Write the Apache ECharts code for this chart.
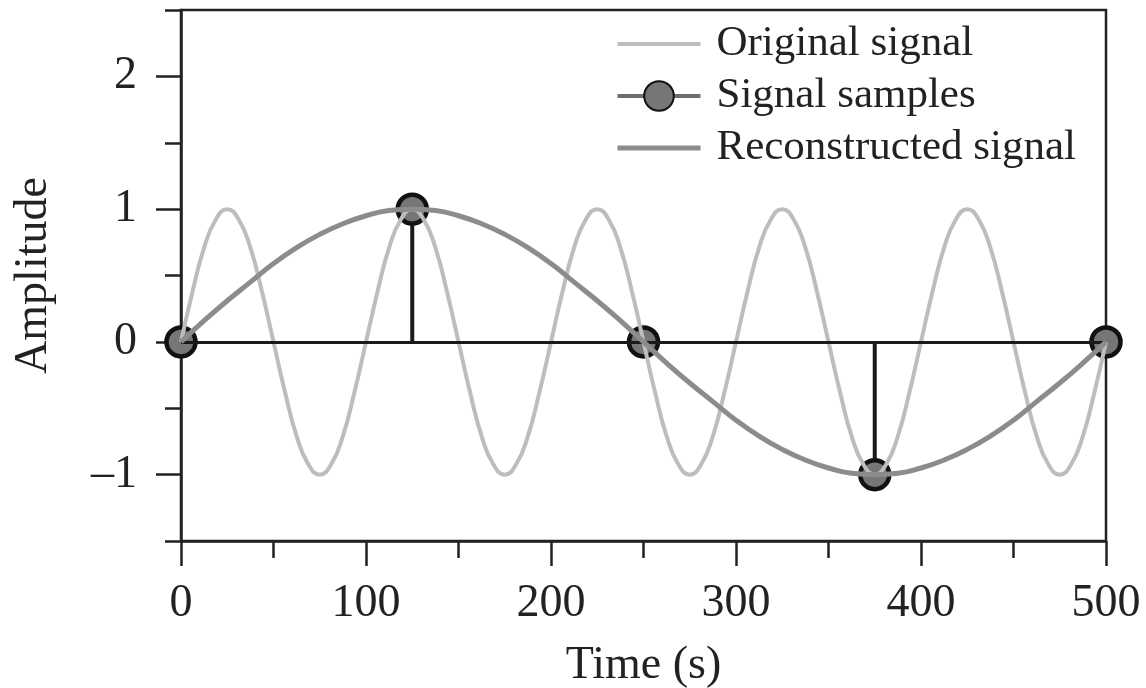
<!DOCTYPE html>
<html>
<head>
<meta charset="utf-8">
<script src="https://cdn.jsdelivr.net/npm/echarts@6/dist/echarts.min.js"></script>
<style>html,body{margin:0;padding:0;background:#fff;}#c{width:1146px;height:688px;}</style>
</head>
<body>
<div id="c"></div>
<script>
// Original signal (period 100 s)
const origTime = [0,6.25,12.5,18.75,25,31.25,37.5,43.75,50,56.25,62.5,68.75,75,81.25,87.5,93.75,
  100,106.25,112.5,118.75,125,131.25,137.5,143.75,150,156.25,162.5,168.75,175,181.25,187.5,193.75,
  200,206.25,212.5,218.75,225,231.25,237.5,243.75,250,256.25,262.5,268.75,275,281.25,287.5,293.75,
  300,306.25,312.5,318.75,325,331.25,337.5,343.75,350,356.25,362.5,368.75,375,381.25,387.5,393.75,
  400,406.25,412.5,418.75,425,431.25,437.5,443.75,450,456.25,462.5,468.75,475,481.25,487.5,493.75,500];
const origAmp = [0,0.38,0.71,0.92,1,0.92,0.71,0.38,0,-0.38,-0.71,-0.92,-1,-0.92,-0.71,-0.38,
  0,0.38,0.71,0.92,1,0.92,0.71,0.38,0,-0.38,-0.71,-0.92,-1,-0.92,-0.71,-0.38,
  0,0.38,0.71,0.92,1,0.92,0.71,0.38,0,-0.38,-0.71,-0.92,-1,-0.92,-0.71,-0.38,
  0,0.38,0.71,0.92,1,0.92,0.71,0.38,0,-0.38,-0.71,-0.92,-1,-0.92,-0.71,-0.38,
  0,0.38,0.71,0.92,1,0.92,0.71,0.38,0,-0.38,-0.71,-0.92,-1,-0.92,-0.71,-0.38,0];
// Reconstructed signal (period 500 s)
const reconTime = [0,12.5,25,37.5,50,62.5,75,87.5,100,112.5,125,137.5,150,162.5,175,187.5,200,212.5,225,237.5,
  250,262.5,275,287.5,300,312.5,325,337.5,350,362.5,375,387.5,400,412.5,425,437.5,450,462.5,475,487.5,500];
const reconAmp = [0,0.16,0.31,0.45,0.59,0.71,0.81,0.89,0.95,0.99,1,0.99,0.95,0.89,0.81,0.71,0.59,0.45,0.31,0.16,
  0,-0.16,-0.31,-0.45,-0.59,-0.71,-0.81,-0.89,-0.95,-0.99,-1,-0.99,-0.95,-0.89,-0.81,-0.71,-0.59,-0.45,-0.31,-0.16,0];
// Samples
const sampleTime = [0,125,250,375,500];
const sampleAmp = [0,1,0,-1,0];
// Ticks
const xTicks = [0,100,200,300,400,500];
const yMajorTicks = [-1,0,1,2];
const yMinorTicks = [-1.5,-0.5,0.5,1.5,2.5];

const FONT = 'Liberation Serif';
const INK = '#222';
const zip = (a,b) => a.map((v,i)=>[v,b[i]]);

const chart = echarts.init(document.getElementById('c'));
chart.setOption({
  backgroundColor:'#fff',
  animation:false,
  textStyle:{fontFamily:FONT,color:INK},
  grid:{left:181,right:40,top:10,bottom:147,show:true,borderColor:INK,borderWidth:2.5,
    backgroundColor:'transparent',containLabel:false,outerBoundsMode:'none'},
  legend:{
    orient:'vertical',left:615,top:18,padding:0,itemGap:0,
    itemWidth:83,itemHeight:37,
    textStyle:{fontFamily:FONT,fontSize:43,color:INK,lineHeight:52,padding:[0,0,0,11]},
    data:[
      {name:'Original signal',itemStyle:{opacity:0},lineStyle:{color:'#bdbdbd',width:4,opacity:1}},
      {name:'Signal samples',lineStyle:{color:'#6e6e6e',width:4,opacity:1}},
      {name:'Reconstructed signal',itemStyle:{opacity:0},lineStyle:{color:'#8c8c8c',width:5,opacity:1}}
    ]
  },
  xAxis:{
    type:'value',min:0,max:500,interval:100,
    axisLine:{show:true,onZero:false,lineStyle:{color:INK,width:2.5}},
    axisTick:{show:true,length:25,lineStyle:{color:INK,width:2.5}},
    minorTick:{show:true,splitNumber:2,length:17,lineStyle:{color:INK,width:2.5}},
    splitLine:{show:false},minorSplitLine:{show:false},
    axisLabel:{fontFamily:FONT,fontSize:46,color:INK,margin:40,customValues:xTicks},
    name:'Time (s)',nameLocation:'middle',nameGap:102,
    nameTextStyle:{fontFamily:FONT,fontSize:46,color:INK}
  },
  yAxis:[{
    type:'value',min:-1.5,max:2.5,position:'left',
    axisLine:{show:true,onZero:false,lineStyle:{color:INK,width:2.5}},
    axisTick:{show:true,length:25,lineStyle:{color:INK,width:2.5},customValues:yMajorTicks},
    axisLabel:{fontFamily:FONT,fontSize:46,color:INK,margin:44,customValues:yMajorTicks,
      formatter:v=> v<0 ? '\u2013'+Math.abs(v) : String(v)},
    splitLine:{show:false},
    name:'Amplitude',nameLocation:'middle',nameGap:124,
    nameTextStyle:{fontFamily:FONT,fontSize:46,color:INK}
  },{
    type:'value',min:-1.5,max:2.5,position:'left',
    axisLine:{show:false,onZero:false},
    axisTick:{show:true,length:16,lineStyle:{color:INK,width:2.5},customValues:yMinorTicks},
    axisLabel:{show:false},
    splitLine:{show:false}
  }],
  series:[
    {
      name:'stems',type:'bar',barWidth:4,silent:true,z:2,
      itemStyle:{color:'#1a1a1a'},
      data:zip(sampleTime,sampleAmp),
      markLine:{silent:true,symbol:'none',label:{show:false},
        lineStyle:{color:'#1a1a1a',width:3,type:'solid'},
        data:[{yAxis:0}]}
    },
    {
      name:'Signal samples',type:'line',z:3,
      symbol:'circle',symbolSize:29,showSymbol:true,
      itemStyle:{color:'#767676',borderColor:'#111',borderWidth:4.5},
      lineStyle:{width:0,opacity:0},
      data:zip(sampleTime,sampleAmp)
    },
    {
      name:'Original signal',type:'line',z:4,smooth:true,symbol:'none',
      lineStyle:{color:'#bdbdbd',width:4},itemStyle:{color:'#bdbdbd'},
      data:zip(origTime,origAmp)
    },
    {
      name:'Reconstructed signal',type:'line',z:5,smooth:true,symbol:'none',
      lineStyle:{color:'#8c8c8c',width:5},itemStyle:{color:'#8c8c8c'},
      data:zip(reconTime,reconAmp)
    }
  ]
});
</script>
</body>
</html>
